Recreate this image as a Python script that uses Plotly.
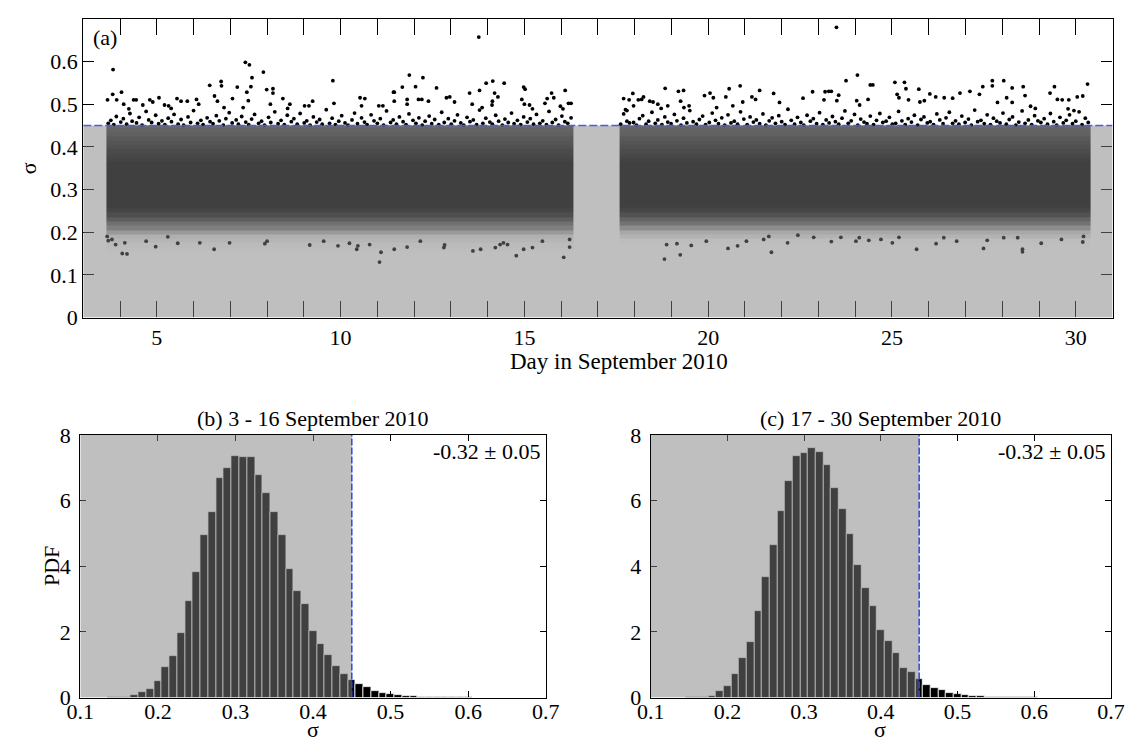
import plotly.graph_objects as go

W, H = 1148, 755
FONT = "Liberation Serif"

# ---------------- data ----------------
threshold = 0.45
seg_start = [3.63, 17.59]
seg_end = [16.33, 30.39]

bin_centers = [0.14, 0.15, 0.16, 0.17, 0.18, 0.19, 0.20, 0.21, 0.22, 0.23,
               0.24, 0.25, 0.26, 0.27, 0.28, 0.29, 0.30, 0.31, 0.32, 0.33,
               0.34, 0.35, 0.36, 0.37, 0.38, 0.39, 0.40, 0.41, 0.42, 0.43,
               0.44, 0.45, 0.46, 0.47, 0.48, 0.49, 0.50, 0.51, 0.52, 0.53,
               0.54, 0.55, 0.56, 0.57, 0.58, 0.59, 0.60]
pdf_b = [0.005, 0.01, 0.03, 0.07, 0.17, 0.25, 0.50, 0.92, 1.27, 1.97,
         2.93, 3.82, 4.95, 5.66, 6.68, 6.98, 7.37, 7.32, 7.34, 6.77,
         6.24, 5.66, 4.94, 3.93, 3.26, 2.85, 2.03, 1.62, 1.31, 0.95,
         0.72, 0.54, 0.42, 0.33, 0.21, 0.15, 0.12, 0.08, 0.05, 0.04,
         0.03, 0.02, 0.01, 0.01, 0.005, 0.005, 0.005]
pdf_c = [0.0, 0.005, 0.01, 0.02, 0.05, 0.20, 0.34, 0.72, 1.21, 1.70,
         2.65, 3.68, 4.64, 5.68, 6.60, 7.35, 7.45, 7.61, 7.49, 7.08,
         6.40, 5.75, 4.98, 4.03, 3.34, 2.79, 2.06, 1.72, 1.35, 0.90,
         0.77, 0.57, 0.37, 0.29, 0.22, 0.15, 0.10, 0.08, 0.05, 0.04,
         0.03, 0.02, 0.01, 0.01, 0.005, 0.005, 0.005]

# isolated points above the threshold (day, sigma)
up_points = [
    (3.81, 0.581), (3.66, 0.510), (3.80, 0.523), (4.04, 0.528), (3.91, 0.510), (4.10, 0.500),
    (4.37, 0.510), (4.44, 0.510), (4.24, 0.489), (4.62, 0.498), (4.81, 0.510), (4.89, 0.505),
    (5.06, 0.515), (5.21, 0.498), (5.32, 0.496), (5.39, 0.490), (5.55, 0.513), (5.66, 0.507),
    (5.83, 0.507), (6.08, 0.511), (6.14, 0.500), (6.44, 0.544), (6.57, 0.519), (6.65, 0.507),
    (6.75, 0.553), (6.76, 0.543), (6.83, 0.492), (7.06, 0.513), (7.19, 0.540), (7.41, 0.598),
    (7.52, 0.592), (7.59, 0.562), (7.56, 0.541), (7.45, 0.528), (7.49, 0.508), (7.35, 0.492),
    (7.90, 0.575), (7.99, 0.534), (8.16, 0.536), (8.16, 0.526), (8.09, 0.500), (8.43, 0.513),
    (8.62, 0.500), (8.56, 0.490), (9.79, 0.555), (9.82, 0.502), (9.14, 0.496), (9.24, 0.507),
    (9.02, 0.496), (10.53, 0.515), (10.66, 0.513), (10.57, 0.496), (11.04, 0.496), (11.15, 0.496),
    (11.46, 0.528), (11.68, 0.540), (11.46, 0.507),
    (13.76, 0.657), (11.87, 0.568), (12.24, 0.562), (12.04, 0.541), (12.61, 0.538), (11.44, 0.528),
    (11.81, 0.511), (11.81, 0.500), (12.12, 0.511), (12.21, 0.511), (12.39, 0.507), (12.88, 0.515),
    (12.97, 0.517), (13.10, 0.505), (13.51, 0.526), (13.78, 0.532), (13.96, 0.549), (14.14, 0.554),
    (14.45, 0.549), (14.19, 0.526), (14.28, 0.517), (14.13, 0.507), (14.12, 0.498), (13.58, 0.500),
    (13.85, 0.492), (14.98, 0.540), (15.02, 0.535), (14.93, 0.511), (15.00, 0.500), (15.14, 0.498),
    (15.22, 0.489), (15.74, 0.526), (15.80, 0.515), (15.62, 0.513), (15.56, 0.502), (16.11, 0.532),
    (15.98, 0.495), (16.05, 0.489), (16.20, 0.502), (16.27, 0.502),
    (17.70, 0.513), (17.95, 0.525), (17.75, 0.487), (17.79, 0.485), (17.85, 0.510), (18.10, 0.510),
    (18.24, 0.517), (18.19, 0.511), (17.97, 0.496), (18.41, 0.507), (18.50, 0.505), (18.63, 0.500),
    (18.72, 0.490), (18.83, 0.537), (18.90, 0.496), (19.19, 0.530), (19.33, 0.532), (19.25, 0.507),
    (19.34, 0.492), (19.48, 0.496), (19.90, 0.520), (20.05, 0.526), (20.14, 0.515), (20.23, 0.492),
    (20.48, 0.517), (20.57, 0.536), (20.87, 0.543), (20.67, 0.496), (20.94, 0.505), (21.19, 0.517),
    (21.40, 0.532), (21.29, 0.511), (21.78, 0.525),
    (23.49, 0.680), (21.94, 0.504), (22.58, 0.514), (22.84, 0.529), (23.18, 0.529), (23.28, 0.530),
    (23.35, 0.530), (23.55, 0.521), (23.15, 0.510), (23.50, 0.508), (23.75, 0.555), (24.06, 0.568),
    (24.41, 0.545), (24.48, 0.545), (24.04, 0.508), (24.35, 0.511), (24.12, 0.498), (25.08, 0.551),
    (25.34, 0.551), (25.14, 0.523), (25.19, 0.515), (25.38, 0.536), (25.73, 0.535), (25.45, 0.510),
    (25.76, 0.505), (25.88, 0.508), (26.03, 0.524), (26.19, 0.517), (26.42, 0.515), (26.65, 0.514),
    (26.85, 0.526), (27.12, 0.530), (27.38, 0.523), (27.47, 0.541), (27.73, 0.555), (27.73, 0.543),
    (28.04, 0.555), (27.87, 0.504), (28.12, 0.515), (28.27, 0.538), (28.27, 0.504), (28.57, 0.541),
    (28.62, 0.520), (28.77, 0.495), (28.90, 0.490), (29.30, 0.526), (29.42, 0.541), (29.50, 0.511),
    (29.63, 0.510), (29.81, 0.510), (30.04, 0.517), (30.19, 0.519), (30.32, 0.547), (29.79, 0.489),
    (29.95, 0.485),
]

# dense points just above the threshold
near_day_1 = [3.68, 3.75, 3.83, 3.90, 4.02, 4.09, 4.18, 4.27, 4.33, 4.45, 4.52, 4.60, 4.71, 4.78, 4.86,
              4.97, 5.05, 5.14, 5.22, 5.31, 5.40, 5.47, 5.58, 5.66, 5.73, 5.85, 5.92, 6.00, 6.11, 6.20,
              6.26, 6.37, 6.45, 6.53, 6.62, 6.70, 6.81, 6.88, 6.97, 7.05, 7.16, 7.22, 7.31, 7.42, 7.50,
              7.58, 7.66, 7.77, 7.85, 7.93, 8.04, 8.10, 8.21, 8.30, 8.38, 8.47, 8.55, 8.66, 8.73, 8.82,
              8.90, 9.01, 9.08, 9.17, 9.26, 9.35, 9.43, 9.50, 9.61, 9.70, 9.77, 9.86, 9.95, 10.03, 10.12,
              10.20, 10.31, 10.38, 10.46, 10.57, 10.65, 10.72, 10.83, 10.91, 11.00, 11.08, 11.17, 11.25,
              11.36, 11.43, 11.52, 11.60, 11.70, 11.78, 11.86, 11.97, 12.05, 12.13, 12.22, 12.30, 12.41,
              12.48, 12.56, 12.67, 12.75, 12.82, 12.93, 13.01, 13.10, 13.18, 13.27, 13.35, 13.44, 13.52,
              13.61, 13.70, 13.78, 13.87, 13.95, 14.06, 14.13, 14.22, 14.30, 14.40, 14.47, 14.56, 14.65,
              14.72, 14.81, 14.90, 14.98, 15.08, 15.16, 15.25, 15.33, 15.42, 15.50, 15.60, 15.67, 15.76,
              15.85, 15.93, 16.02, 16.10, 16.18, 16.27]
near_sig_1 = [0.455, 0.462, 0.452, 0.471, 0.458, 0.466, 0.453, 0.478, 0.460, 0.456,
              0.469, 0.451, 0.483, 0.463, 0.457, 0.474, 0.454, 0.461, 0.452, 0.467,
              0.459, 0.476, 0.453, 0.464, 0.451, 0.470, 0.457, 0.485, 0.455, 0.462,
              0.452, 0.468, 0.459, 0.454, 0.473, 0.461, 0.451, 0.466, 0.480, 0.456,
              0.463, 0.453, 0.471, 0.458, 0.452, 0.465, 0.476, 0.455, 0.460, 0.451,
              0.469, 0.457, 0.482, 0.454, 0.462, 0.452, 0.474, 0.459, 0.466, 0.453,
              0.478, 0.456, 0.461, 0.451, 0.470, 0.458, 0.464, 0.453, 0.487, 0.455,
              0.467, 0.452, 0.460, 0.473, 0.456, 0.451, 0.463, 0.479, 0.454, 0.468,
              0.458, 0.452, 0.475, 0.461, 0.455, 0.466, 0.451, 0.484, 0.457, 0.463,
              0.453, 0.470, 0.459, 0.452, 0.477, 0.462, 0.455, 0.468, 0.451, 0.460,
              0.472, 0.454, 0.464, 0.452, 0.481, 0.457, 0.466, 0.453, 0.461, 0.475,
              0.456, 0.451, 0.469, 0.459, 0.463, 0.452, 0.486, 0.455, 0.467, 0.458,
              0.453, 0.474, 0.460, 0.451, 0.465, 0.457, 0.479, 0.454, 0.462, 0.452,
              0.470, 0.458, 0.466, 0.453, 0.476, 0.455, 0.461, 0.452, 0.483, 0.457,
              0.464, 0.451, 0.472, 0.459, 0.455, 0.468, 0.453, 0.477, 0.460, 0.456]
near_day_2 = [17.62, 17.70, 17.79, 17.86, 17.97, 18.05, 18.13, 18.22, 18.31, 18.38, 18.47, 18.56, 18.63,
              18.74, 18.82, 18.90, 18.99, 19.08, 19.15, 19.26, 19.33, 19.42, 19.50, 19.59, 19.68, 19.76,
              19.85, 19.93, 20.03, 20.11, 20.20, 20.28, 20.37, 20.45, 20.54, 20.62, 20.71, 20.80, 20.88,
              20.97, 21.06, 21.14, 21.23, 21.31, 21.40, 21.49, 21.57, 21.66, 21.74, 21.83, 21.92, 22.00,
              22.09, 22.17, 22.26, 22.35, 22.43, 22.52, 22.60, 22.69, 22.78, 22.86, 22.95, 23.03, 23.12,
              23.21, 23.29, 23.38, 23.46, 23.55, 23.64, 23.72, 23.81, 23.89, 23.98, 24.07, 24.15, 24.24,
              24.32, 24.41, 24.50, 24.58, 24.67, 24.75, 24.84, 24.93, 25.01, 25.10, 25.18, 25.27, 25.36,
              25.44, 25.53, 25.61, 25.70, 25.79, 25.87, 25.96, 26.04, 26.13, 26.22, 26.30, 26.39, 26.47,
              26.56, 26.65, 26.73, 26.82, 26.90, 26.99, 27.08, 27.16, 27.25, 27.33, 27.42, 27.51, 27.59,
              27.68, 27.76, 27.85, 27.94, 28.02, 28.11, 28.19, 28.28, 28.37, 28.45, 28.54, 28.62, 28.71,
              28.80, 28.88, 28.97, 29.05, 29.14, 29.23, 29.31, 29.40, 29.48, 29.57, 29.66, 29.74, 29.83,
              29.91, 30.00, 30.09, 30.17, 30.26, 30.34]
near_sig_2 = [0.457, 0.451, 0.466, 0.473, 0.453, 0.460, 0.481, 0.455, 0.463, 0.452,
              0.470, 0.458, 0.454, 0.476, 0.461, 0.451, 0.467, 0.456, 0.485, 0.459,
              0.453, 0.464, 0.472, 0.452, 0.457, 0.479, 0.462, 0.454, 0.468, 0.451,
              0.475, 0.456, 0.460, 0.453, 0.482, 0.465, 0.452, 0.470, 0.458, 0.463,
              0.454, 0.477, 0.451, 0.461, 0.468, 0.455, 0.473, 0.459, 0.452, 0.488,
              0.462, 0.453, 0.469, 0.457, 0.451, 0.474, 0.460, 0.466, 0.454, 0.480,
              0.452, 0.463, 0.456, 0.471, 0.459, 0.453, 0.467, 0.484, 0.455, 0.461,
              0.476, 0.451, 0.465, 0.458, 0.454, 0.472, 0.452, 0.462, 0.478, 0.457,
              0.460, 0.469, 0.453, 0.455, 0.483, 0.461, 0.452, 0.466, 0.458, 0.474,
              0.451, 0.464, 0.470, 0.456, 0.459, 0.452, 0.477, 0.463, 0.454, 0.468,
              0.481, 0.455, 0.461, 0.453, 0.472, 0.457, 0.465, 0.451, 0.486, 0.459,
              0.462, 0.454, 0.475, 0.452, 0.467, 0.460, 0.456, 0.479, 0.453, 0.464,
              0.470, 0.451, 0.458, 0.484, 0.455, 0.463, 0.452, 0.473, 0.461, 0.457,
              0.466, 0.453, 0.478, 0.459, 0.451, 0.469, 0.456, 0.462, 0.475, 0.454,
              0.460, 0.482, 0.452, 0.467, 0.457, 0.471, 0.453, 0.464, 0.458, 0.476]

# isolated low points (day, sigma)
low_points = [
    (3.65, 0.190), (3.68, 0.180), (3.78, 0.183), (3.88, 0.171), (4.06, 0.150), (4.19, 0.149),
    (4.13, 0.175), (4.71, 0.179), (4.97, 0.166), (5.30, 0.189), (5.57, 0.174), (6.17, 0.175),
    (6.56, 0.160), (6.98, 0.175), (7.94, 0.173), (8.00, 0.179), (9.16, 0.170), (9.54, 0.179),
    (9.93, 0.168), (10.24, 0.174), (10.44, 0.160), (10.47, 0.168), (10.79, 0.171), (11.06, 0.130),
    (11.10, 0.153), (11.46, 0.160), (11.81, 0.165), (12.17, 0.179), (12.83, 0.170), (12.81, 0.164),
    (13.60, 0.156), (13.81, 0.160), (14.21, 0.164), (14.34, 0.171), (14.43, 0.175), (14.54, 0.171),
    (14.78, 0.145), (14.98, 0.160), (15.22, 0.164), (15.49, 0.179), (16.07, 0.141), (16.23, 0.183),
    (16.23, 0.165), (18.81, 0.137), (18.87, 0.171), (19.15, 0.173), (19.24, 0.147), (19.54, 0.169),
    (19.95, 0.179), (20.54, 0.162), (20.80, 0.168), (21.04, 0.179), (21.51, 0.183), (21.72, 0.153),
    (21.65, 0.190), (22.16, 0.175), (22.44, 0.193), (22.87, 0.188), (23.35, 0.178), (23.61, 0.188),
    (24.02, 0.179), (24.11, 0.187), (24.37, 0.181), (24.70, 0.183), (25.01, 0.175), (25.19, 0.188),
    (25.67, 0.160), (26.20, 0.173), (26.41, 0.187), (26.76, 0.179), (27.49, 0.162), (27.59, 0.181),
    (28.04, 0.187), (28.42, 0.187), (28.55, 0.160), (28.55, 0.154), (29.06, 0.174), (29.61, 0.183),
    (30.19, 0.177), (30.21, 0.190),
]

day_ticks = list(range(4, 31))
sig_ticks = [0, 0.1, 0.2, 0.3, 0.4, 0.5, 0.6]
hist_xticks = [0.1, 0.2, 0.3, 0.4, 0.5, 0.6, 0.7]
hist_yticks = [0, 2, 4, 6, 8]


# ---------------- helpers ----------------
def fx(p):
    return p / W


def fy(p):
    return 1 - p / H


fig = go.Figure()

# density band of panel (a): one heatmap per period, coloured by the histogram density.
# The lower flank (sigma < 0.295) is encoded with negative sign so it can use its own
# (lighter) darkness ramp within the same colour scale.
ZMAX = 5.0
upper_ramp = [(0.5, 0.66), (0.75, 0.72), (1.3, 0.8), (2.0, 0.86), (3.0, 0.92), (4.0, 0.97), (5.0, 1.0)]
lower_ramp = [(0.25, 0.12), (0.5, 0.3), (0.92, 0.5), (1.27, 0.62), (2.0, 0.78), (3.0, 0.9),
              (4.0, 0.97), (5.0, 1.0)]
scale = [[(ZMAX - z) / (2 * ZMAX), f"rgba(0,0,0,{a})"] for z, a in reversed(lower_ramp)]
scale += [[0.5, "rgba(0,0,0,0)"]]
scale += [[(ZMAX + z) / (2 * ZMAX), f"rgba(0,0,0,{a})"] for z, a in upper_ramp]

band_idx = [i for i, c in enumerate(bin_centers) if c - 0.005 < threshold]
band_edges = [bin_centers[i] - 0.005 for i in band_idx] + [threshold]
for s, e, pdf in zip(seg_start, seg_end, [pdf_b, pdf_c]):
    zcol = [[-pdf[i] if bin_centers[i] < 0.295 else pdf[i]] for i in band_idx]
    fig.add_trace(go.Heatmap(
        x=[s, e], y=band_edges, z=zcol, colorscale=scale, zmin=-ZMAX, zmax=ZMAX,
        showscale=False, hoverinfo="skip", xaxis="x", yaxis="y"))

mk = dict(color="black", size=3.8)
fig.add_trace(go.Scatter(x=near_day_1 + near_day_2, y=near_sig_1 + near_sig_2, mode="markers",
                         marker=mk, xaxis="x", yaxis="y", hoverinfo="skip"))
fig.add_trace(go.Scatter(x=[p[0] for p in up_points], y=[p[1] for p in up_points], mode="markers",
                         marker=mk, xaxis="x", yaxis="y", hoverinfo="skip"))
fig.add_trace(go.Scatter(x=[p[0] for p in low_points], y=[p[1] for p in low_points], mode="markers",
                         marker=mk, xaxis="x", yaxis="y", hoverinfo="skip"))

# histograms
for pdf, xa, ya in [(pdf_b, "x2", "y2"), (pdf_c, "x3", "y3")]:
    fig.add_trace(go.Bar(x=bin_centers, y=pdf, width=0.01, xaxis=xa, yaxis=ya,
                         marker=dict(color="black", line=dict(color="white", width=0.8)),
                         hoverinfo="skip"))

# ---------------- axes ----------------
common = dict(showline=True, linecolor="black", linewidth=1.2, mirror="ticks", ticks="inside",
              tickcolor="black", tickwidth=1, showgrid=False, zeroline=False,
              tickfont=dict(family=FONT, size=22, color="black"))

fig.update_layout(
    width=W, height=H, margin=dict(l=0, r=0, t=0, b=0),
    paper_bgcolor="white", plot_bgcolor="white", showlegend=False, bargap=0,
    font=dict(family=FONT, size=22, color="black"),
    xaxis=dict(domain=[fx(71), fx(1126)], anchor="y", range=[3, 31], tickvals=day_ticks,
               ticktext=[str(d) if d % 5 == 0 else "" for d in day_ticks], ticklen=16, **common),
    yaxis=dict(domain=[fy(316), fy(7)], anchor="x", range=[0, 0.7], tickvals=sig_ticks,
               ticktext=["0" if v == 0 else f"{v:.1f}" for v in sig_ticks], ticklen=11, **common),
    xaxis2=dict(domain=[fx(68), fx(545)], anchor="y2", range=[0.1, 0.7], tickvals=hist_xticks,
                ticktext=[f"{v:.1f}" for v in hist_xticks], ticklen=6, ticklabelstandoff=-6, **common),
    yaxis2=dict(domain=[fy(709), fy(437.5)], anchor="x2", range=[0, 8], tickvals=hist_yticks,
                ticklen=6, ticklabelstandoff=4, **common),
    xaxis3=dict(domain=[fx(652.6), fx(1124.4)], anchor="y3", range=[0.1, 0.7], tickvals=hist_xticks,
                ticktext=[f"{v:.1f}" for v in hist_xticks], ticklen=6, ticklabelstandoff=-6, **common),
    yaxis3=dict(domain=[fy(709), fy(437.5)], anchor="x3", range=[0, 8], tickvals=hist_yticks,
                ticklen=6, ticklabelstandoff=4, **common),
)

# ---------------- shading & threshold lines ----------------
shade = "rgba(128,128,128,0.5)"
shapes = [
    dict(type="rect", xref="x", yref="y", x0=3, x1=31, y0=0, y1=threshold, fillcolor=shade,
         line=dict(width=0), layer="above"),
    dict(type="line", xref="x", yref="y", x0=3, x1=31, y0=threshold, y1=threshold,
         line=dict(color="rgb(80,90,225)", width=1.5, dash="8px,3px"), layer="above"),
]
for xa, ya in [("x2", "y2"), ("x3", "y3")]:
    shapes.append(dict(type="rect", xref=xa, yref=ya, x0=0.1, x1=threshold, y0=0, y1=8,
                       fillcolor=shade, line=dict(width=0), layer="above"))
    shapes.append(dict(type="line", xref=xa, yref=ya, x0=threshold, x1=threshold, y0=0, y1=8,
                       line=dict(color="rgb(40,70,235)", width=1.5, dash="7px,2px"), layer="above"))
fig.update_layout(shapes=shapes)

# ---------------- text ----------------
tf = dict(family=FONT, size=22, color="black")
ann = [
    dict(text="(a)", x=fx(79), y=fy(26), xanchor="left", yanchor="middle"),
    dict(text="σ", x=fx(15), y=fy(162), textangle=-90, xanchor="center", yanchor="middle"),
    dict(text="Day in September 2010", x=fx(620), y=fy(361), xanchor="center", yanchor="middle",
         font=dict(family=FONT, size=23, color="black")),
    dict(text="(b) 3 - 16 September 2010", x=fx(306), y=fy(420), xanchor="center", yanchor="middle"),
    dict(text="(c) 17 - 30 September 2010", x=fx(888), y=fy(420), xanchor="center", yanchor="middle"),
    dict(text="PDF", x=fx(38), y=fy(573), textangle=-90, xanchor="center", yanchor="middle"),
    dict(text="σ", x=fx(306), y=fy(756), xanchor="center", yanchor="bottom", borderpad=0),
    dict(text="σ", x=fx(888), y=fy(756), xanchor="center", yanchor="bottom", borderpad=0),
    dict(text="-0.32 ± 0.05", x=fx(541), y=fy(455), xanchor="right", yanchor="middle"),
    dict(text="-0.32 ± 0.05", x=fx(1120), y=fy(455), xanchor="right", yanchor="middle"),
]
for a in ann:
    a.setdefault("font", tf)
    a.update(xref="paper", yref="paper", showarrow=False)
fig.update_layout(annotations=ann)

fig.write_html("out.html")
